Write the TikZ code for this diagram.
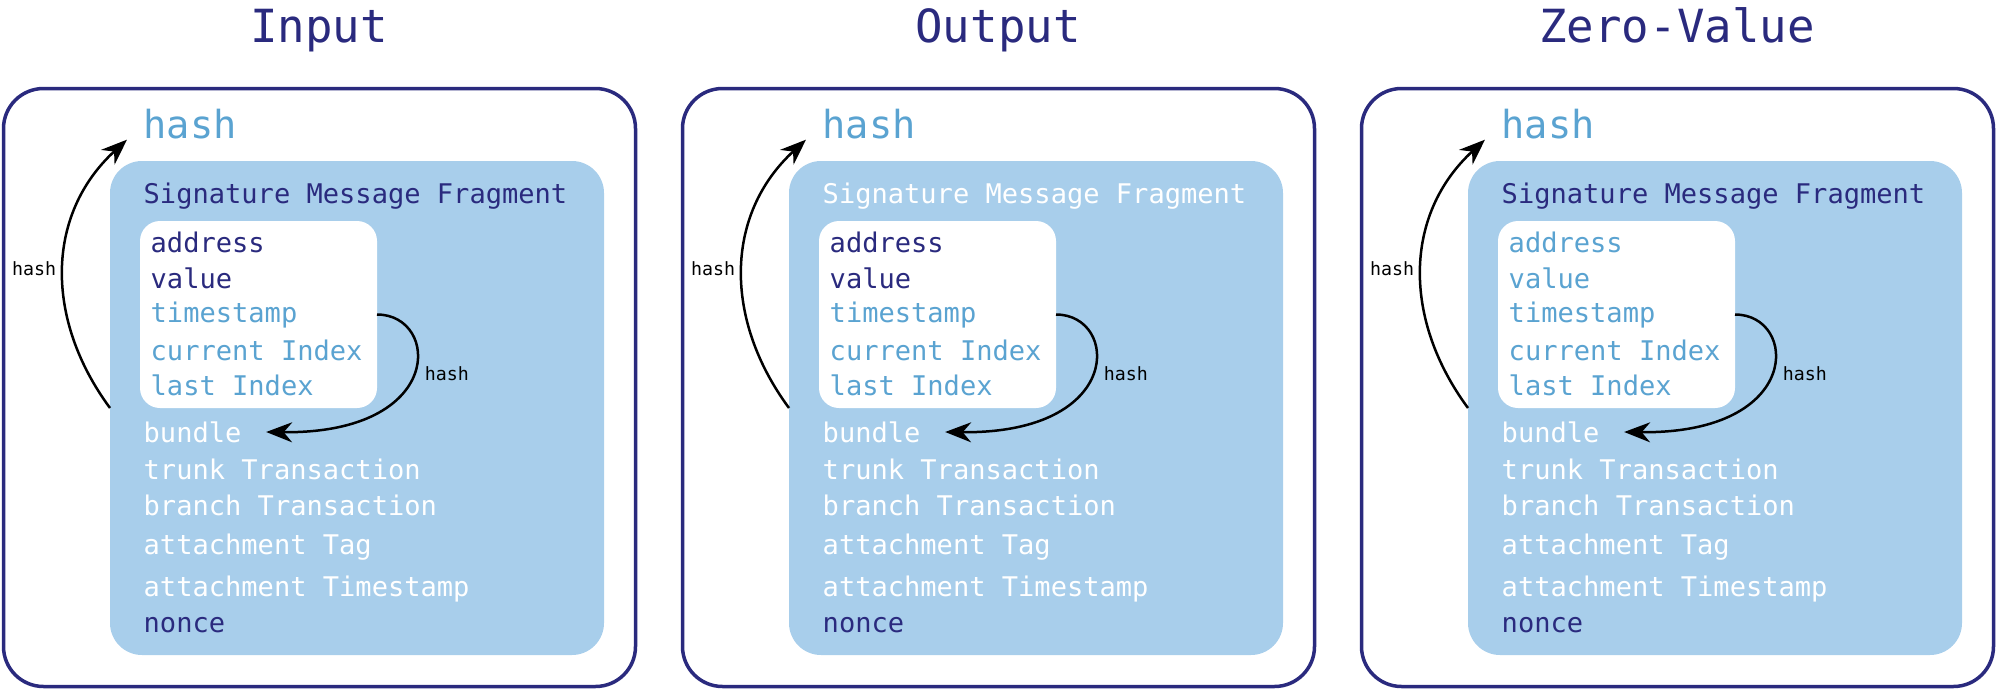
\documentclass[tikz,border=0pt]{standalone}
\usepackage{fontspec}
\setmonofont{DejaVu Sans Mono}
\usetikzlibrary{arrows.meta,positioning}
\definecolor{navy}{RGB}{42,42,126}
\definecolor{cellblue}{RGB}{168,206,235}
\definecolor{hashblue}{RGB}{90,163,209}
\tikzset{
 tx frame/.style={draw=navy,line width=0.35mm,rounded corners=4mm,
                  minimum width=63.2mm,minimum height=59.8mm,outer sep=0pt},
 tx cell/.style={fill=cellblue,rounded corners=3.2mm,
                 minimum width=49.4mm,minimum height=49.4mm,outer sep=0pt},
 tx inner/.style={fill=white,rounded corners=2mm,
                  minimum width=23.7mm,minimum height=18.7mm,outer sep=0pt},
 tx title/.style={anchor=base,inner sep=0pt,text=navy,
                  font=\ttfamily\fontsize{13}{15}\selectfont},
 tx hash/.style={anchor=west,inner sep=0pt,text=hashblue,
                 font=\ttfamily\fontsize{11}{13}\selectfont},
 tx field/.style={anchor=west,inner sep=0pt,
                  font=\ttfamily\fontsize{7.7}{9}\selectfont},
 tx arrow/.style={line width=0.25mm,-{Stealth[length=2.6mm,width=2mm]}},
 tx arrow label/.style={font=\ttfamily\fontsize{5.2}{6}\selectfont,inner sep=0pt}
}
\begin{document}
\begin{tikzpicture}[x=0.1mm,y=-0.1mm]
 \useasboundingbox (0,0) rectangle (1999,692);
 \foreach \dx/\ttl/\smf/\av [count=\i] in
   {0/Input/navy/navy, 67.9/Output/white/navy, 135.8/Zero-Value/navy/hashblue}{
 \begin{scope}[xshift=\dx mm]
  \node[tx title] (title\i) at (319,43) {\ttl};
  \node[tx frame] (frame\i) at (319.5,387.5) {};
  \node[tx cell] (cell\i) at (357,408) {};
  \node[tx inner] (inner\i) at (258.5,314.5) {};
  \node[tx hash] (hash\i) at (143,124) {hash};
  \node[tx field,text=\smf] (smf\i) at (143,196) {Signature Message Fragment};

  % fields inside the white box
  \node[tx field,text=\av] (addr\i) at (150,242) {address};
  \node[tx field,text=\av] (val\i) at (150,278) {value};
  \foreach \y/\t [count=\j] in {315/timestamp, 350/current Index, 385/last Index}
   \node[tx field,text=hashblue] (idx\i-\j) at (150,\y) {\t};

  % fields below it
  \foreach \y/\t [count=\j] in {432/bundle, 469/trunk Transaction,
     505/branch Transaction, 547/attachment Tag, 589/attachment Timestamp}
   \node[tx field,text=white] (fld\i-\j) at (143,\y) {\t};
  \node[tx field,text=navy] (nonce\i) at (143,625) {nonce};

  \draw[tx arrow] (inner\i.east) .. controls +(63,0) and +(180,2) ..
    node[tx arrow label,right=1.1mm] (hb\i) {hash} ([xshift=2.4mm]fld\i-1.east);
  \draw[tx arrow] (cell\i.west) .. controls (45,320) and (45,215) ..
    node[tx arrow label,left=0.6mm] (ha\i) {hash} ([xshift=-1.6mm]hash\i.south west);
 \end{scope}}
\end{tikzpicture}
\end{document}
